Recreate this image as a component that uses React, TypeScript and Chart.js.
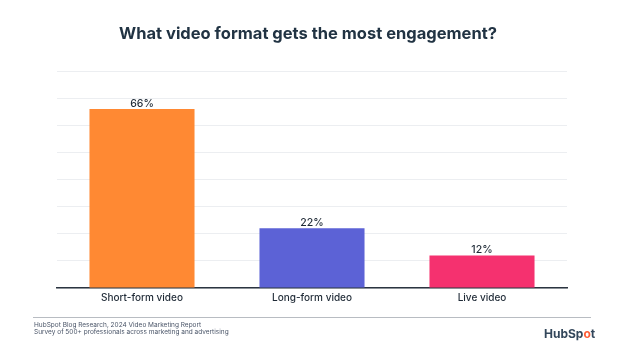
import React, { useEffect, useRef } from "react";
import { Chart, registerables } from "chart.js";

Chart.register(...registerables);

const TITLE = "What video format gets the most engagement?";
const categories = ["Short-form video", "Long-form video", "Live video"];
const values = [66, 22, 12];
const barColors = ["#ff8933", "#5c62d6", "#f5316f"];
const yMax = 80;
const yStep = 10;
const footerLines = [
  "HubSpot Blog Research, 2024 Video Marketing Report",
  "Survey of 500+ professionals across marketing and advertising",
];

const FONT = "Inter, 'Noto Sans', sans-serif";

const decorPlugin = {
  id: "decor",
  afterDatasetsDraw(chart: any) {
    const ctx = chart.ctx;
    const meta = chart.getDatasetMeta(0);
    ctx.save();
    ctx.fillStyle = "#1f2a36";
    ctx.font = `500 10.5px ${FONT}`;
    ctx.textAlign = "center";
    ctx.textBaseline = "alphabetic";
    meta.data.forEach((bar: any, i: number) => {
      ctx.fillText(values[i] + "%", bar.x, bar.y - 2);
    });
    ctx.restore();
  },
  afterDraw(chart: any) {
    const ctx = chart.ctx;
    ctx.save();
    // title
    ctx.fillStyle = "#213343";
    ctx.font = `bold 16.5px ${FONT}`;
    ctx.textAlign = "center";
    ctx.textBaseline = "alphabetic";
    ctx.fillText(TITLE, 308, 38.5);
    // footer rule
    ctx.strokeStyle = "#b8bcc2";
    ctx.lineWidth = 1;
    ctx.beginPath();
    ctx.moveTo(33, 317.5);
    ctx.lineTo(591, 317.5);
    ctx.stroke();
    // footer text
    ctx.fillStyle = "#4a5568";
    ctx.font = `6.5px ${FONT}`;
    ctx.textAlign = "left";
    ctx.textBaseline = "middle";
    ctx.fillText(footerLines[0], 34, 325.5);
    ctx.fillText(footerLines[1], 34, 332);
    // logo
    ctx.font = `bold 12px ${FONT}`;
    ctx.textBaseline = "middle";
    let x = 544;
    const parts: [string, string][] = [["HubSp", "#33475b"], ["o", "#ff5c35"], ["t", "#33475b"]];
    parts.forEach(([t, c]) => {
      ctx.fillStyle = c;
      ctx.fillText(t, x, 334);
      x += ctx.measureText(t).width;
    });
    ctx.restore();
  },
};

export default function App() {
  const ref = useRef<HTMLCanvasElement>(null);
  useEffect(() => {
    if (!ref.current) return;
    const chart = new Chart(ref.current, {
      type: "bar",
      data: {
        labels: categories,
        datasets: [
          {
            data: values,
            backgroundColor: barColors,
            borderWidth: 0,
            categoryPercentage: 0.618,
            barPercentage: 1,
          },
        ],
      },
      options: {
        animation: false,
        responsive: false,
        layout: { padding: { left: 57, right: 57, top: 71, bottom: 0 } },
        plugins: {
          legend: { display: false },
          tooltip: { enabled: false },
          title: { display: false },
        },
        scales: {
          x: {
            grid: { display: false, drawTicks: false },
            border: { display: true, color: "#2b3440", width: 1.5 },
            ticks: {
              color: "#1f2a36",
              font: { family: FONT, size: 10, weight: "500" as any },
              padding: 4,
            },
            afterFit: (s: any) => {
              s.height = 64;
            },
          },
          y: {
            min: 0,
            max: yMax,
            ticks: { display: false, stepSize: yStep },
            grid: { color: "#eceef1", drawTicks: false, lineWidth: 1 },
            border: { display: false },
            afterFit: (s: any) => {
              s.width = 0;
            },
          },
        },
      },
      plugins: [decorPlugin],
    });
    return () => chart.destroy();
  }, []);
  return (
    <div style={{ position: "fixed", left: 0, top: 0, width: 624, height: 352, background: "#fff" }}>
      <canvas ref={ref} width={624} height={352} style={{ display: "block" }} />
    </div>
  );
}
